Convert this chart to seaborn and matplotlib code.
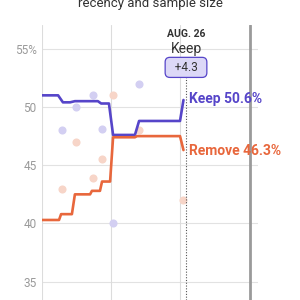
import numpy as np
import pandas as pd
import seaborn as sns
import matplotlib.pyplot as plt

# polling average (days from first gridline)
keep_days = [0, 7, 9.1, 12.2, 14.3, 24.3, 25.7, 29.1, 30.9, 40.4, 42.2, 60, 61.5]
keep_vals = [51.0, 51.0, 50.4, 50.4, 50.5, 50.5, 50.3, 50.3, 47.6, 47.6, 48.8, 48.8, 50.6]
remove_days = [0, 7.4, 8.3, 13, 14.3, 20.9, 21.7, 25.2, 26.1, 29.6, 30.9, 40.4, 41.3, 60, 61.5]
remove_vals = [40.3, 40.3, 40.8, 40.8, 42.5, 42.5, 42.8, 42.8, 43.6, 43.6, 47.4, 47.4, 47.5, 47.5, 46.3]

# individual polls
poll_days = [8.7, 14.8, 22.2, 26.1, 30.9, 42.2, 61.3]
poll_keep = [48.0, 50.0, 51.0, 48.1, 40.0, 52.0, np.nan]
poll_remove = [43.0, 47.0, 43.9, 45.5, 51.0, 48.0, 42.0]

y_ticks = [35, 40, 45, 50, 55]
y_labels = ["35", "40", "45", "50", "55%"]

purple = "#5645c9"
orange = "#e8673c"

sns.set_style("white")
plt.rcParams['font.family'] = ['Roboto', 'DejaVu Sans']

fig = plt.figure(figsize=(3, 3), dpi=100)
ax = fig.add_axes([0.14, 0.0, 0.72, 0.9167])

polls = pd.DataFrame({"day": poll_days, "keep": poll_keep, "remove": poll_remove})
sns.scatterplot(data=polls, x="day", y="keep", color="#d3cff2", s=34, linewidth=0, ax=ax, zorder=2)
sns.scatterplot(data=polls, x="day", y="remove", color="#f7d5c8", s=34, linewidth=0, ax=ax, zorder=2)

sns.lineplot(x=keep_days, y=keep_vals, sort=False, color=purple, lw=1.9, ax=ax, zorder=4)
sns.lineplot(x=remove_days, y=remove_vals, sort=False, color=orange, lw=1.9, ax=ax, zorder=4)

ax.set_xlim(0, 93.9)
ax.set_ylim(33.43, 57.04)
for s in ax.spines.values():
    s.set_visible(False)

for y in y_ticks:
    ax.axhline(y, color="#e2e2e2", lw=0.8, zorder=0)
for x in [0, 30, 60]:
    ax.axvline(x, color="#dcdcdc", lw=0.8, zorder=0)
ax.axvline(90.4, color="#9a9a9a", lw=2, zorder=1)
ax.axvline(62.6, ymax=(300 - 66) / 275, color="#555555", lw=0.8, ls=(0, (1, 1.5)), zorder=3)

ax.set_xticks([])
ax.set_yticks(y_ticks)
ax.set_yticklabels(y_labels)
ax.tick_params(axis="y", length=0, pad=4, labelsize=8.5, labelcolor="#9a9a9a")
ax.set_xlabel("")
ax.set_ylabel("")

ax.text(64.0, 50.7, "Keep 50.6%", color=purple, fontsize=10, fontweight="bold", va="center", ha="left")
ax.text(64.0, 46.2, "Remove 46.3%", color=orange, fontsize=10, fontweight="bold", va="center", ha="left")

ax.text(62.6, 56.3, "AUG. 26", color="#333333", fontsize=7.5, fontweight="bold", ha="center", va="center")
ax.text(62.6, 55.0, "Keep", color="#333333", fontsize=10, ha="center", va="center")
ax.text(62.6, 53.4, "  +4.3  ", color="#333333", fontsize=8.5, ha="center", va="center",
        bbox=dict(boxstyle="round,pad=0.3,rounding_size=0.4", fc="#dcd8f7", ec=purple, lw=0.9))

fig.text(0.5, 1 - 3 / 300, "recency and sample size", ha="center", va="center", fontsize=9.5, color="#333333")

fig.savefig("out.png", dpi=100)
